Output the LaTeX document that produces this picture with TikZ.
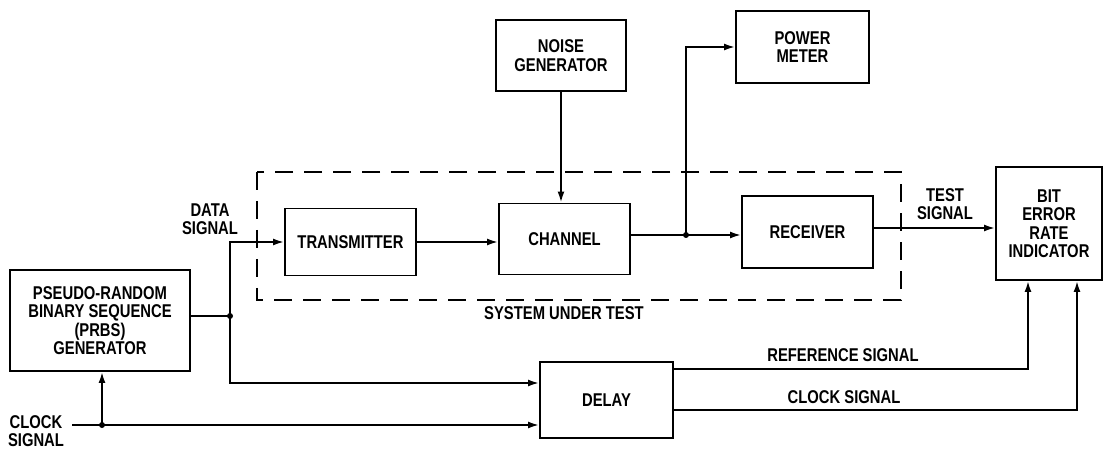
\documentclass[tikz,border=0pt]{standalone}
\usepackage{fontspec}
\setmainfont{Liberation Sans}[FakeStretch=0.8]
\usetikzlibrary{arrows.meta,calc}
\begin{document}
\begin{tikzpicture}[x=1pt,y=-1pt,line width=1.9pt,
  every node/.style={font=\bfseries\fontsize{18.5pt}{18.5pt}\selectfont,align=center,inner sep=0pt},
  blk/.style={draw,line width=1.9pt},
  arr/.style={-{Latex[length=11pt,width=7pt]}},
  sut/.style={draw,line width=1.9pt,dash pattern=on 18pt off 11pt},
  lbl/.style={text=black}]
\useasboundingbox (0,0) rectangle (1104,449);
% blocks
\node[blk,minimum width=180pt,minimum height=101pt] (prbs) at (100,320.5) {PSEUDO-RANDOM\\BINARY SEQUENCE\\(PRBS)\\GENERATOR};
\node[blk,minimum width=131pt,minimum height=67pt] (tx) at (350.5,242) {TRANSMITTER};
\node[blk,minimum width=131pt,minimum height=71pt] (ch) at (564.5,239) {CHANNEL};
\node[blk,minimum width=130pt,minimum height=71pt] (noise) at (561,55.5) {NOISE\\GENERATOR};
\node[blk,minimum width=133pt,minimum height=72pt] (pm) at (802.5,47) {POWER\\METER};
\node[blk,minimum width=131pt,minimum height=72pt] (rx) at (807.5,232) {RECEIVER};
\node[blk,minimum width=106pt,minimum height=113pt] (ber) at (1049,223.5) {BIT\\ERROR\\RATE\\INDICATOR};
\node[blk,minimum width=133pt,minimum height=76pt] (delay) at (606.5,400) {DELAY};
% system under test
\draw[sut] (257,172) rectangle (901,300);
\node[lbl] (sutl) at (564,313) {SYSTEM UNDER TEST};
% labels
\node[lbl] (dsl) at (210,219) {DATA\\SIGNAL};
\node[lbl] (csl) at (36,431) {CLOCK\\SIGNAL};
\node[lbl] (tsl) at (945,204) {TEST\\SIGNAL};
\node[lbl] (rsl) at (843,355) {REFERENCE SIGNAL};
\node[lbl] (csl2) at (844,397) {CLOCK SIGNAL};
% junctions
\coordinate (j1) at (230,316);
\coordinate (j2) at (102,425);
\coordinate (j3) at (686,235);
\coordinate (cs) at (72,425);
% connectors
\draw (prbs.east |- j1) -- (j1);
\draw[arr] (j1) |- (tx.west);
\draw[arr] (j1) |- ([yshift=17pt]delay.west);
\draw[arr] (cs) -- ([yshift=-25pt]delay.west);
\draw[arr] (j2) -- (j2 |- prbs.south);
\draw[arr] (tx.east) -- (tx.east -| ch.west);
\draw[arr] (noise.south) -- (noise.south |- ch.north);
\draw (ch.east |- j3) -- (j3);
\draw[arr] (j3) -- (j3 -| rx.west);
\draw[arr] (j3) |- (pm.west);
\draw[arr] (rx.east |- 0,228) -- (ber.west |- 0,228);
\draw[arr] ([yshift=31pt]delay.east) -| ([xshift=-21pt]ber.south);
\draw[arr] ([yshift=-10pt]delay.east) -| ([xshift=28pt]ber.south);
\fill (j1) circle (3pt);
\fill (j2) circle (3pt);
\fill (j3) circle (3pt);
\end{tikzpicture}
\end{document}
